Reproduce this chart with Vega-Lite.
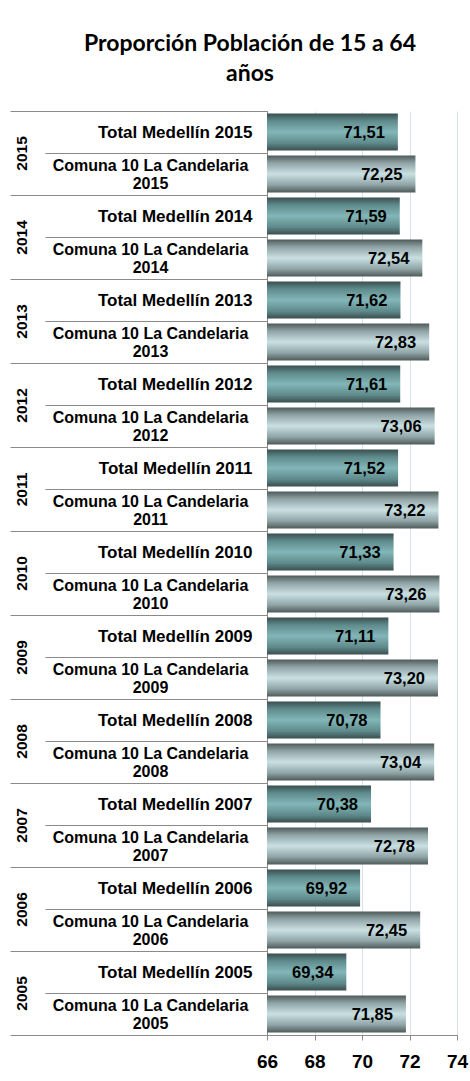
{
  "$schema": "https://vega.github.io/schema/vega-lite/v6.json",
  "autosize": {"type": "none"},
  "padding": {"left": 267, "top": 111, "right": 13, "bottom": 46},
  "width": 190,
  "height": 924,
  "background": "white",
  "title": {
    "text": ["Proporción Población de 15 a 64", "años"],
    "font": "Lato",
    "fontSize": 23,
    "fontWeight": "bold",
    "color": "#000000",
    "lineHeight": 30,
    "anchor": "start",
    "align": "center",
    "dx": -17,
    "frame": "group",
    "offset": 16
  },
  "config": {
    "view": {"stroke": null},
    "locale": {"number": {"decimal": ",", "thousands": ".", "grouping": [3], "currency": ["$", ""]}}
  },
  "data": {
    "values": [
      {"ord": 1, "year": "2015", "serie": "M", "label": "Total Medellín 2015", "value": 71.51},
      {"ord": 2, "year": "2015", "serie": "C", "label": "Comuna 10 La Candelaria|2015", "value": 72.25},
      {"ord": 3, "year": "2014", "serie": "M", "label": "Total Medellín 2014", "value": 71.59},
      {"ord": 4, "year": "2014", "serie": "C", "label": "Comuna 10 La Candelaria|2014", "value": 72.54},
      {"ord": 5, "year": "2013", "serie": "M", "label": "Total Medellín 2013", "value": 71.62},
      {"ord": 6, "year": "2013", "serie": "C", "label": "Comuna 10 La Candelaria|2013", "value": 72.83},
      {"ord": 7, "year": "2012", "serie": "M", "label": "Total Medellín 2012", "value": 71.61},
      {"ord": 8, "year": "2012", "serie": "C", "label": "Comuna 10 La Candelaria|2012", "value": 73.06},
      {"ord": 9, "year": "2011", "serie": "M", "label": "Total Medellín 2011", "value": 71.52},
      {"ord": 10, "year": "2011", "serie": "C", "label": "Comuna 10 La Candelaria|2011", "value": 73.22},
      {"ord": 11, "year": "2010", "serie": "M", "label": "Total Medellín 2010", "value": 71.33},
      {"ord": 12, "year": "2010", "serie": "C", "label": "Comuna 10 La Candelaria|2010", "value": 73.26},
      {"ord": 13, "year": "2009", "serie": "M", "label": "Total Medellín 2009", "value": 71.11},
      {"ord": 14, "year": "2009", "serie": "C", "label": "Comuna 10 La Candelaria|2009", "value": 73.20},
      {"ord": 15, "year": "2008", "serie": "M", "label": "Total Medellín 2008", "value": 70.78},
      {"ord": 16, "year": "2008", "serie": "C", "label": "Comuna 10 La Candelaria|2008", "value": 73.04},
      {"ord": 17, "year": "2007", "serie": "M", "label": "Total Medellín 2007", "value": 70.38},
      {"ord": 18, "year": "2007", "serie": "C", "label": "Comuna 10 La Candelaria|2007", "value": 72.78},
      {"ord": 19, "year": "2006", "serie": "M", "label": "Total Medellín 2006", "value": 69.92},
      {"ord": 20, "year": "2006", "serie": "C", "label": "Comuna 10 La Candelaria|2006", "value": 72.45},
      {"ord": 21, "year": "2005", "serie": "M", "label": "Total Medellín 2005", "value": 69.34},
      {"ord": 22, "year": "2005", "serie": "C", "label": "Comuna 10 La Candelaria|2005", "value": 71.85}
    ]
  },
  "layer": [
    {
      "encoding": {
        "y": {
          "field": "label",
          "type": "nominal",
          "sort": {"field": "ord", "op": "min"},
          "scale": {"paddingInner": 0, "paddingOuter": 0},
          "axis": {
            "orient": "left",
            "title": null,
            "tickBand": "extent",
            "tickSize": 222,
            "tickColor": "#8a8a8a",
            "domainColor": "#8a8a8a",
            "labelFont": "Liberation Sans",
            "labelFontWeight": "bold",
            "labelFontSize": 17,
            "labelColor": "#000000",
            "labelAlign": "right",
            "labelBaseline": "middle",
            "labelPadding": -207,
            "labelLimit": 0,
            "labelExpr": "indexof(datum.label, '|') >= 0 ? '' : datum.label"
          }
        }
      },
      "layer": [
        {
          "mark": {"type": "bar", "height": {"band": 0.88}},
          "encoding": {
            "x": {
              "field": "value",
              "type": "quantitative",
              "scale": {"domain": [66, 74], "zero": false, "nice": false},
              "axis": {
                "title": null,
                "values": [66, 68, 70, 72, 74],
                "grid": true,
                "gridColor": "#d6e4ea",
                "domainColor": "#8a8a8a",
                "tickColor": "#8a8a8a",
                "tickSize": 5,
                "labelFont": "Liberation Sans",
                "labelFontWeight": "bold",
                "labelFontSize": 19,
                "labelColor": "#000000",
                "labelPadding": 12,
                "labelFlush": false
              }
            },
            "x2": {"datum": 66},
            "color": {
              "condition": {
                "test": "datum.serie == 'M'",
                "value": {
                  "gradient": "linear", "x1": 0, "y1": 0, "x2": 0, "y2": 1,
                  "stops": [
                    {"offset": 0, "color": "#3a4f4f"},
                    {"offset": 0.2, "color": "#5f8a8b"},
                    {"offset": 0.5, "color": "#82b6b8"},
                    {"offset": 0.8, "color": "#5f8a8b"},
                    {"offset": 1, "color": "#3a4f4f"}
                  ]
                }
              },
              "value": {
                "gradient": "linear", "x1": 0, "y1": 0, "x2": 0, "y2": 1,
                "stops": [
                  {"offset": 0, "color": "#4f5a5a"},
                  {"offset": 0.2, "color": "#8fa3a5"},
                  {"offset": 0.5, "color": "#c9e0e3"},
                  {"offset": 0.8, "color": "#8fa3a5"},
                  {"offset": 1, "color": "#4f5a5a"}
                ]
              }
            }
          }
        },
        {
          "mark": {
            "type": "text",
            "align": "right",
            "baseline": "middle",
            "dx": -13,
            "dy": 1,
            "font": "Liberation Sans",
            "fontWeight": "bold",
            "fontSize": 16.5,
            "color": "#000000"
          },
          "encoding": {
            "x": {"field": "value", "type": "quantitative"},
            "text": {"field": "value", "type": "quantitative", "format": ".2f"}
          }
        }
      ]
    },
    {
      "mark": {"type": "point", "opacity": 0},
      "encoding": {
        "y": {
          "field": "label",
          "type": "nominal",
          "sort": {"field": "ord", "op": "min"},
          "scale": {"paddingInner": 0, "paddingOuter": 0},
          "axis": {
            "orient": "left",
            "title": null,
            "ticks": false,
            "tickSize": 0,
            "domain": false,
            "labelFont": "Liberation Sans",
            "labelFontWeight": "bold",
            "labelFontSize": 16,
            "labelColor": "#000000",
            "labelAlign": "center",
            "labelBaseline": "middle",
            "labelLineHeight": 18,
            "labelOffset": -9,
            "labelPadding": 117,
            "labelLimit": 0,
            "labelExpr": "indexof(datum.label, '|') >= 0 ? split(datum.label, '|') : ''"
          }
        }
      }
    },
    {
      "mark": {"type": "point", "opacity": 0},
      "encoding": {
        "y": {
          "field": "year",
          "type": "nominal",
          "sort": "descending",
          "scale": {"paddingInner": 0, "paddingOuter": 0},
          "axis": {
            "orient": "left",
            "title": null,
            "tickBand": "extent",
            "tickSize": 257,
            "tickColor": "#8a8a8a",
            "domain": false,
            "labelFont": "Liberation Sans",
            "labelFontWeight": "bold",
            "labelFontSize": 15.5,
            "labelColor": "#000000",
            "labelAngle": -90,
            "labelAlign": "center",
            "labelBaseline": "middle",
            "labelPadding": -11
          }
        }
      }
    }
  ],
  "resolve": {"scale": {"y": "independent"}, "axis": {"y": "independent"}}
}
